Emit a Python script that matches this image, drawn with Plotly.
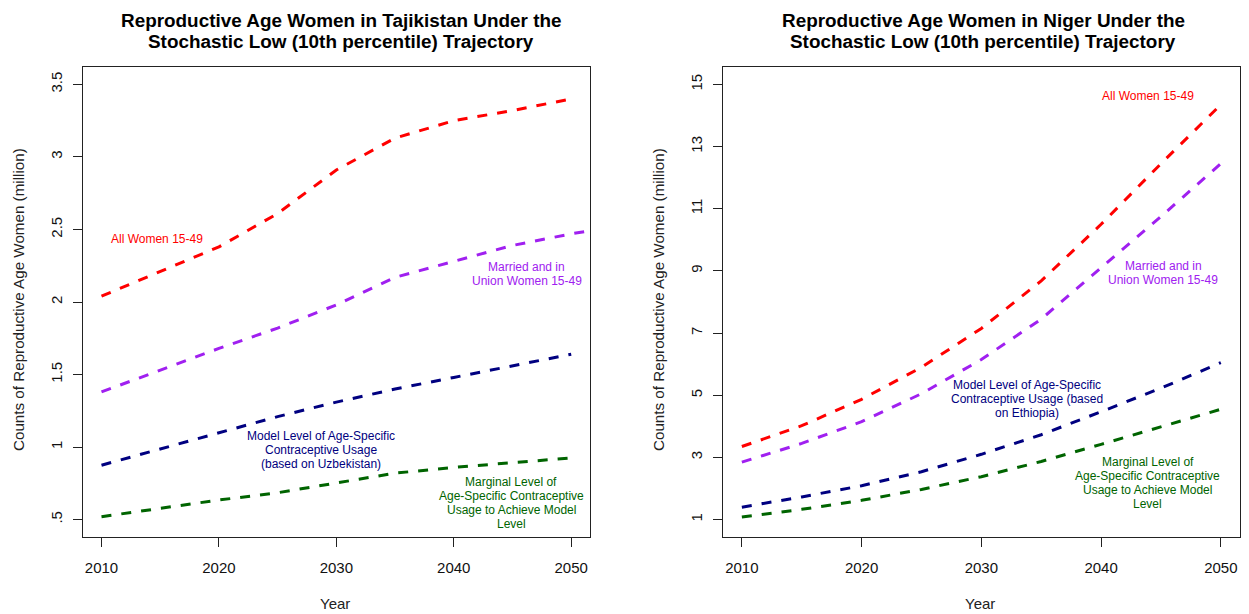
import plotly.graph_objects as go

# ---------------- data ----------------
years = [2010, 2015, 2020, 2025, 2030, 2035, 2040, 2045, 2050]

# Tajikistan (million)
tj_all = [2.04, 2.21, 2.38, 2.61, 2.91, 3.13, 3.25, 3.32, 3.40]
tj_married_years = [2010, 2015, 2020, 2025, 2030, 2035, 2040, 2045, 2050, 2051.5]
tj_married = [1.38, 1.53, 1.68, 1.82, 1.98, 2.17, 2.28, 2.39, 2.47, 2.49]
tj_model = [0.875, 0.985, 1.10, 1.21, 1.31, 1.40, 1.48, 1.56, 1.64]
tj_marginal = [0.52, 0.58, 0.635, 0.685, 0.75, 0.82, 0.86, 0.895, 0.925]

# Niger (million)
ne_all = [3.35, 4.02, 4.87, 5.90, 7.15, 8.68, 10.50, 12.45, 14.35]
ne_married = [2.85, 3.45, 4.15, 5.05, 6.15, 7.45, 9.10, 10.75, 12.45]
ne_model = [1.40, 1.73, 2.09, 2.54, 3.10, 3.73, 4.47, 5.23, 6.05]
ne_marginal = [1.08, 1.33, 1.62, 1.97, 2.38, 2.87, 3.42, 3.99, 4.55]

x_ticks = [2010, 2020, 2030, 2040, 2050]
tj_yticks = [0.5, 1, 1.5, 2, 2.5, 3, 3.5]
tj_ytext = [".5", "1", "1.5", "2", "2.5", "3", "3.5"]
ne_yticks = [1, 3, 5, 7, 9, 11, 13, 15]
ne_ytext = ["1", "3", "5", "7", "9", "11", "13", "15"]

titles_left = ["Reproductive Age Women in Tajikistan Under the",
               "Stochastic Low (10th percentile) Trajectory"]
titles_right = ["Reproductive Age Women in Niger Under the",
                "Stochastic Low (10th percentile) Trajectory"]

# ---------------- style ----------------
RED = "#FF0000"
PURPLE = "#A020F0"
NAVY = "#000080"
GREEN = "#006400"
FONT = "Liberation Sans, Arial, sans-serif"
DASH = "10px,10px"
LW = 3

W, H = 1249, 614
def px_x(p):
    return p / W
def px_y(p):
    return 1 - p / H

L_DOM = [px_x(82.7), px_x(590)]
R_DOM = [px_x(722.7), px_x(1240)]
Y_DOM = [px_y(537), px_y(67)]

fig = go.Figure()

def add_line(xs, ys, color, xa, ya):
    fig.add_trace(go.Scatter(x=xs, y=ys, mode="lines", xaxis=xa, yaxis=ya,
                             line=dict(color=color, width=LW, dash=DASH),
                             showlegend=False, hoverinfo="skip"))

add_line(years, tj_all, RED, "x", "y")
add_line(tj_married_years, tj_married, PURPLE, "x", "y")
add_line(years, tj_model, NAVY, "x", "y")
add_line(years, tj_marginal, GREEN, "x", "y")

add_line(years, ne_all, RED, "x2", "y2")
add_line(years, ne_married, PURPLE, "x2", "y2")
add_line(years, ne_model, NAVY, "x2", "y2")
add_line(years, ne_marginal, GREEN, "x2", "y2")

axis_common = dict(showline=True, mirror=True, linecolor="#222", linewidth=1,
                   ticks="outside", ticklen=9, tickcolor="#222", tickwidth=1,
                   showgrid=False, zeroline=False,
                   tickfont=dict(family=FONT, size=15, color="#111"))

fig.update_layout(
    width=W, height=H,
    margin=dict(l=0, r=0, t=0, b=0),
    paper_bgcolor="white", plot_bgcolor="white",
    xaxis=dict(domain=L_DOM, range=[2008.4, 2051.6], tickvals=x_ticks,
               anchor="y", ticklabelstandoff=8, **axis_common),
    yaxis=dict(domain=Y_DOM, range=[0.38, 3.62], tickvals=tj_yticks,
               ticktext=tj_ytext, tickangle=-90, anchor="x",
               ticklabelstandoff=5, **axis_common),
    xaxis2=dict(domain=R_DOM, range=[2008.4, 2051.6], tickvals=x_ticks,
                anchor="y2", ticklabelstandoff=8, **axis_common),
    yaxis2=dict(domain=Y_DOM, range=[0.44, 15.56], tickvals=ne_yticks,
                ticktext=ne_ytext, tickangle=-90, anchor="x2",
                ticklabelstandoff=5, **axis_common),
)

ann = []
# titles
for i, t in enumerate(titles_left):
    ann.append(dict(text="<b>%s</b>" % t, x=px_x(341), y=px_y(20 + 21.7 * i),
                    xref="paper", yref="paper", showarrow=False,
                    xanchor="center", yanchor="middle",
                    font=dict(family=FONT, size=18.9, color="black")))
for i, t in enumerate(titles_right):
    ann.append(dict(text="<b>%s</b>" % t, x=px_x(983), y=px_y(20 + 21.7 * i),
                    xref="paper", yref="paper", showarrow=False,
                    xanchor="center", yanchor="middle",
                    font=dict(family=FONT, size=18.9, color="black")))
# axis titles
for xc in (335, 980):
    ann.append(dict(text="Year", x=px_x(xc), y=px_y(603), xref="paper", yref="paper",
                    showarrow=False, xanchor="center", yanchor="middle",
                    font=dict(family=FONT, size=15, color="#222")))
for xc in (18, 658):
    ann.append(dict(text="Counts of Reproductive Age Women (million)", x=px_x(xc),
                    y=px_y(300), xref="paper", yref="paper", textangle=-90,
                    showarrow=False, xanchor="center", yanchor="middle",
                    font=dict(family=FONT, size=15.2, color="#222")))

LINE_GAP = 14
def label(lines, x, y, color, xa, ya):
    n = len(lines)
    for i, t in enumerate(lines):
        shift = ((n - 1) / 2 - i) * LINE_GAP
        ann.append(dict(text=t, x=x, y=y, xref=xa, yref=ya, showarrow=False,
                        xanchor="center", yanchor="middle", yshift=shift,
                        font=dict(family=FONT, size=12, color=color)))

label(["All Women 15-49"], 2014.75, 2.436, RED, "x", "y")
label(["Married and in", "Union Women 15-49"], 2046.2, 2.19, PURPLE, "x", "y")
label(["Model Level of Age-Specific", "Contraceptive Usage", "(based on Uzbekistan)"],
      2028.7, 0.981, NAVY, "x", "y")
label(["Marginal Level of", "Age-Specific Contraceptive", "Usage to Achieve Model", "Level"],
      2044.9, 0.614, GREEN, "x", "y")

label(["All Women 15-49"], 2043.9, 14.64, RED, "x2", "y2")
label(["Married and in", "Union Women 15-49"], 2045.2, 8.93, PURPLE, "x2", "y2")
label(["Model Level of Age-Specific", "Contraceptive Usage (based", "on Ethiopia)"],
      2033.8, 4.87, NAVY, "x2", "y2")
label(["Marginal Level of", "Age-Specific Contraceptive", "Usage to Achieve Model", "Level"],
      2043.9, 2.18, GREEN, "x2", "y2")

fig.update_layout(annotations=ann)
fig.write_html("out.html")
